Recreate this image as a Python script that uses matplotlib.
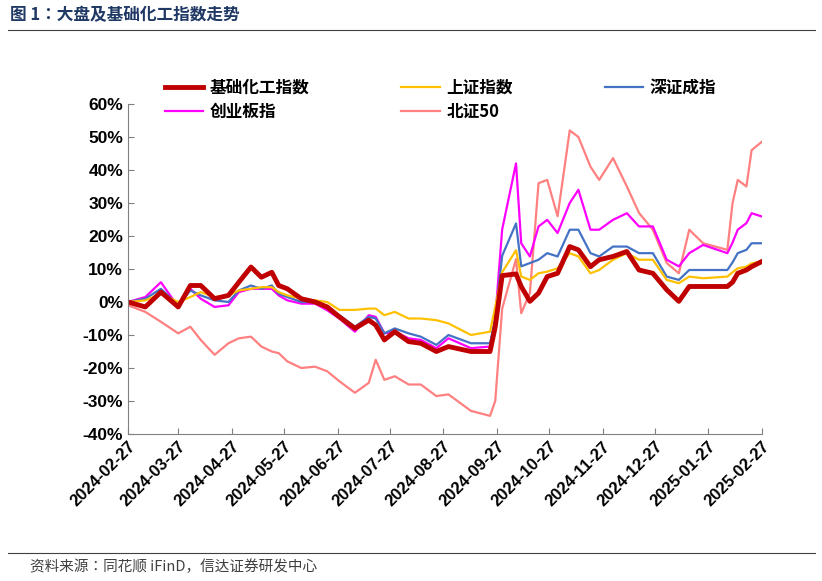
import matplotlib
matplotlib.use("Agg")
import matplotlib.pyplot as plt
from matplotlib import font_manager as fm
import pandas as pd

cjk_names = sorted({f.name for f in fm.fontManager.ttflist if "CJK" in f.name})
CJK = "Noto Sans CJK SC" if "Noto Sans CJK SC" in cjk_names else (cjk_names[0] if cjk_names else "DejaVu Sans")
plt.rcParams["font.family"] = ["Liberation Sans", CJK]

dates = ["2024-02-27","2024-03-08","2024-03-17","2024-03-27","2024-04-03","2024-04-09","2024-04-17",
         "2024-04-25","2024-05-01","2024-05-08","2024-05-14","2024-05-20","2024-05-24","2024-05-29",
         "2024-06-06","2024-06-14","2024-06-21","2024-06-28","2024-07-07","2024-07-15","2024-07-19",
         "2024-07-24","2024-07-30","2024-08-07","2024-08-14","2024-08-23","2024-08-30","2024-09-12",
         "2024-09-23","2024-09-26","2024-09-30","2024-10-08","2024-10-11","2024-10-16","2024-10-21",
         "2024-10-26","2024-11-01","2024-11-08","2024-11-13","2024-11-20","2024-11-25","2024-12-03",
         "2024-12-11","2024-12-18","2024-12-26","2025-01-03","2025-01-10","2025-01-16","2025-01-24",
         "2025-02-07","2025-02-10","2025-02-13","2025-02-18","2025-02-21","2025-02-27"]

chem = [0,-1.5,3,-1.5,5,5,1,2,6,10.6,7.5,9,5,4,1,0,-1.5,-4.5,-8,-5.5,-7,-11.5,-9,-12,-12.5,-15,-13.5,-15,
        -15,-7.5,8,8.5,4.7,0.2,2.7,7.7,8.7,16.8,15.8,10.7,12.8,13.8,15.3,9.7,8.7,3.7,0.2,4.7,4.7,
        4.7,6,8.7,9.7,10.7,12.3]
sh = [0,0.5,2.5,0,1.5,3,1.5,2,3.5,4,4.5,4.5,3,2,1,0.5,0,-2.4,-2.4,-2,-2,-4,-3,-5,-5,-5.5,-6.5,-10,
      -9,-1.5,9,15.7,7.7,6.7,8.7,9.2,10.2,14.8,13.8,8.7,9.7,12.8,14.8,12.8,12.8,6.7,5.7,7.7,7.2,
      7.7,9,10.2,10.7,11.7,12.3]
sz = [0,1,4,-1,3.5,2,0.5,0,3.5,5,4,5,2.5,1.5,0,0,-1.5,-4,-7.5,-4.5,-5,-9.5,-8,-9.5,-10.5,-13,-10,-12.5,
      -12.5,-5,14,23.8,10.8,11.8,12.8,14.8,13.8,21.9,21.9,14.8,13.8,16.8,16.8,14.8,14.8,7.7,6.7,9.7,9.7,
      9.7,12,14.8,15.8,17.8,17.8]
cyb = [0,1.5,6,-1.5,4,1,-1.5,-1,3,4,4,4,2,0.5,-0.5,-0.5,-2.5,-5,-9,-4,-4.5,-9.5,-9,-11,-11.5,-14,-11,-14,
       -13.5,-5,22,42,17.8,13.8,22.9,24.9,20.9,30,34,21.9,21.9,24.9,26.9,22.9,22.9,12.8,10.8,14.8,17.3,
       14.8,18,21.9,23.9,26.9,25.9]
bz50 = [-1,-3,-6,-9.5,-7.5,-11.5,-16,-12.5,-11,-10.5,-13.5,-15,-15.5,-18,-20,-19.6,-21,-24,-27.5,-24.5,
        -17.5,-23.6,-22.5,-25,-25,-28.5,-28,-33,-34.5,-30,-2,13,-3.4,2.7,36,37,26,52,50,41,37,43.6,
        35,27,21.9,11.8,8.7,21.9,17.8,15.8,30,37,35,46,48.6]

names = ["基础化工指数", "上证指数", "深证成指", "创业板指", "北证50"]
colors = ["#C00000", "#FFC000", "#4472C4", "#FF00FF", "#FF8080"]
widths = [3.5, 1.6, 1.6, 1.6, 1.6]
series = [chem, sh, sz, cyb, bz50]
tick_labels = ["2024-02-27","2024-03-27","2024-04-27","2024-05-27","2024-06-27","2024-07-27",
               "2024-08-27","2024-09-27","2024-10-27","2024-11-27","2024-12-27","2025-01-27","2025-02-27"]

df = pd.DataFrame({n: s for n, s in zip(names, series)}, index=pd.to_datetime(dates))

fig = plt.figure(figsize=(8.22, 5.81), dpi=100)
ax = fig.add_axes([128/822, 1-434/581, (762-128)/822, (434-104)/581])
handles = {}
for i in [4, 3, 2, 1, 0]:
    n = names[i]
    h, = ax.plot(df.index, df[n] / 100, color=colors[i], lw=widths[i])
    handles[n] = h

ax.set_ylim(-0.4, 0.6)
ax.set_xlim(pd.Timestamp("2024-02-27"), pd.Timestamp("2025-02-27"))
ax.set_yticks([i / 10 for i in range(-4, 7)])
ax.set_yticklabels([f"{i*10}%" for i in range(-4, 7)], fontsize=12.5, fontweight="bold")
ax.set_xticks(pd.to_datetime(tick_labels))
ax.set_xticklabels(tick_labels, rotation=45, ha="right", rotation_mode="anchor",
                   fontsize=12, fontweight="bold")
for s in ["top", "right"]:
    ax.spines[s].set_visible(False)
ax.spines["left"].set_color("#808080")
ax.spines["bottom"].set_color("#808080")
ax.tick_params(axis="both", direction="in", length=4, color="#808080")

leg_order = [names[0], names[3], names[1], names[4], names[2]]
fig.legend([handles[n] for n in leg_order], leg_order, ncol=3, loc="upper left",
           bbox_to_anchor=(150/822, 1-64/581), frameon=False,
           prop={"family": CJK, "weight": "bold", "size": 12},
           columnspacing=5.5, handlelength=2.3, handletextpad=0.4, labelspacing=0.35)

fig.text(10/822, 1-15/581, "图 1：大盘及基础化工指数走势", fontsize=12, fontweight="bold",
         color="#1F3864", family=CJK, va="center")
fig.add_artist(plt.Line2D([8/822, 815/822], [1-30/581, 1-30/581], color="#404040", lw=0.8))
fig.add_artist(plt.Line2D([8/822, 815/822], [1-553/581, 1-553/581], color="#404040", lw=0.8))
fig.text(30/822, 1-567/581, "资料来源：同花顺 iFinD，信达证券研发中心", fontsize=10.5, style="italic",
         color="#404040", family=CJK, va="center")

fig.savefig("out.png", dpi=100)
